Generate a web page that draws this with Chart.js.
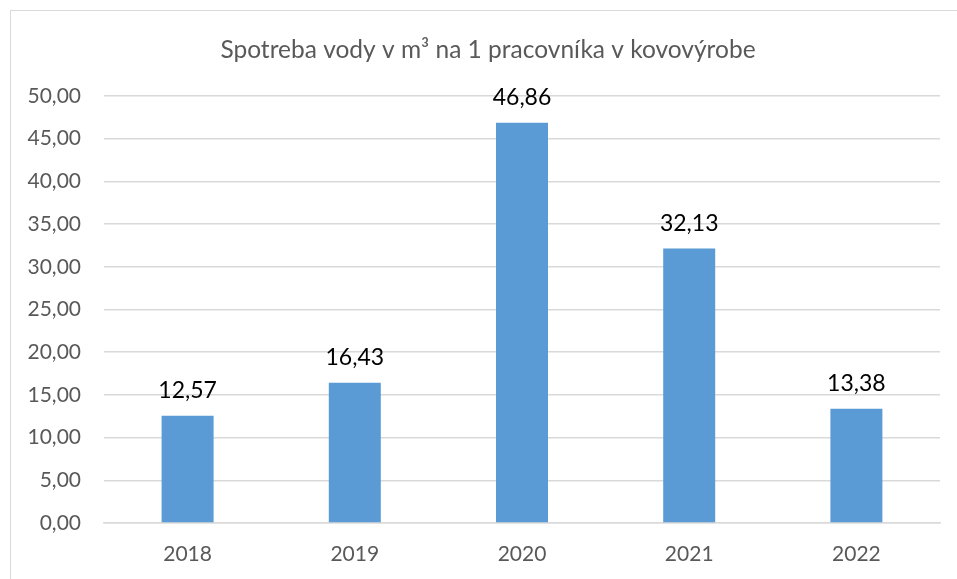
<!DOCTYPE html>
<html>
<head>
<meta charset="utf-8">
<script src="https://cdn.jsdelivr.net/npm/chart.js@4.4.1/dist/chart.umd.min.js"></script>
<style>
  html, body { margin: 0; padding: 0; background: #ffffff; }
  #wrap { position: relative; width: 957px; height: 579px; }
</style>
</head>
<body>
<div id="wrap"><canvas id="c" width="957" height="579"></canvas></div>
<script>
const chartTitle = 'Spotreba vody v m³ na 1 pracovníka v kovovýrobe';
const categories = ['2018', '2019', '2020', '2021', '2022'];
const values = [12.57, 16.43, 46.86, 32.13, 13.38];
const yMin = 0;
const yMax = 50;
const yStep = 5;

const FONT = 'Lato, "Open Sans", sans-serif';
const fmt = v => Number(v).toFixed(2).replace('.', ',');

const framePlugin = {
  id: 'frame',
  beforeDraw(chart) {
    const ctx = chart.ctx;
    ctx.save();
    ctx.fillStyle = '#ffffff';
    ctx.fillRect(0, 0, chart.width, chart.height);
    ctx.strokeStyle = '#D9D9D9';
    ctx.lineWidth = 1;
    ctx.strokeRect(10.5, 10.5, chart.width + 20, chart.height + 20);
    ctx.fillStyle = '#595959';
    ctx.font = '24.5px ' + FONT;
    ctx.textAlign = 'center';
    ctx.textBaseline = 'alphabetic';
    ctx.fillText(chartTitle, 488, 58);
    ctx.restore();
  }
};

const labelPlugin = {
  id: 'barLabels',
  afterDatasetsDraw(chart) {
    const ctx = chart.ctx;
    const meta = chart.getDatasetMeta(0);
    ctx.save();
    ctx.fillStyle = '#000000';
    ctx.font = '23px ' + FONT;
    ctx.textAlign = 'center';
    ctx.textBaseline = 'alphabetic';
    meta.data.forEach((bar, i) => {
      ctx.fillText(fmt(chart.data.datasets[0].data[i]), bar.x, bar.y - 18);
    });
    ctx.restore();
  }
};

new Chart(document.getElementById('c'), {
  type: 'bar',
  data: {
    labels: categories,
    datasets: [{
      data: values,
      backgroundColor: '#5B9BD5',
      borderWidth: 0,
      categoryPercentage: 1.0,
      barPercentage: 0.311
    }]
  },
  options: {
    responsive: false,
    animation: false,
    devicePixelRatio: 1,
    layout: { padding: { left: 0, right: 17, top: 96, bottom: 0 } },
    plugins: {
      legend: { display: false },
      title: { display: false },
      tooltip: { enabled: false }
    },
    scales: {
      x: {
        grid: { display: false, drawTicks: false },
        border: { display: true, color: '#D9D9D9', width: 1.5 },
        ticks: { color: '#595959', font: { family: FONT, size: 21 }, padding: 19 },
        afterFit(scale) { scale.height = 56; }
      },
      y: {
        min: yMin,
        max: yMax,
        grid: { color: '#D9D9D9', lineWidth: 1.5, drawTicks: false },
        border: { display: false },
        ticks: {
          stepSize: yStep,
          color: '#595959',
          font: { family: FONT, size: 21 },
          padding: 23,
          callback: v => fmt(v)
        },
        afterFit(scale) { scale.width = 104; }
      }
    }
  },
  plugins: [framePlugin, labelPlugin]
});
</script>
</body>
</html>
